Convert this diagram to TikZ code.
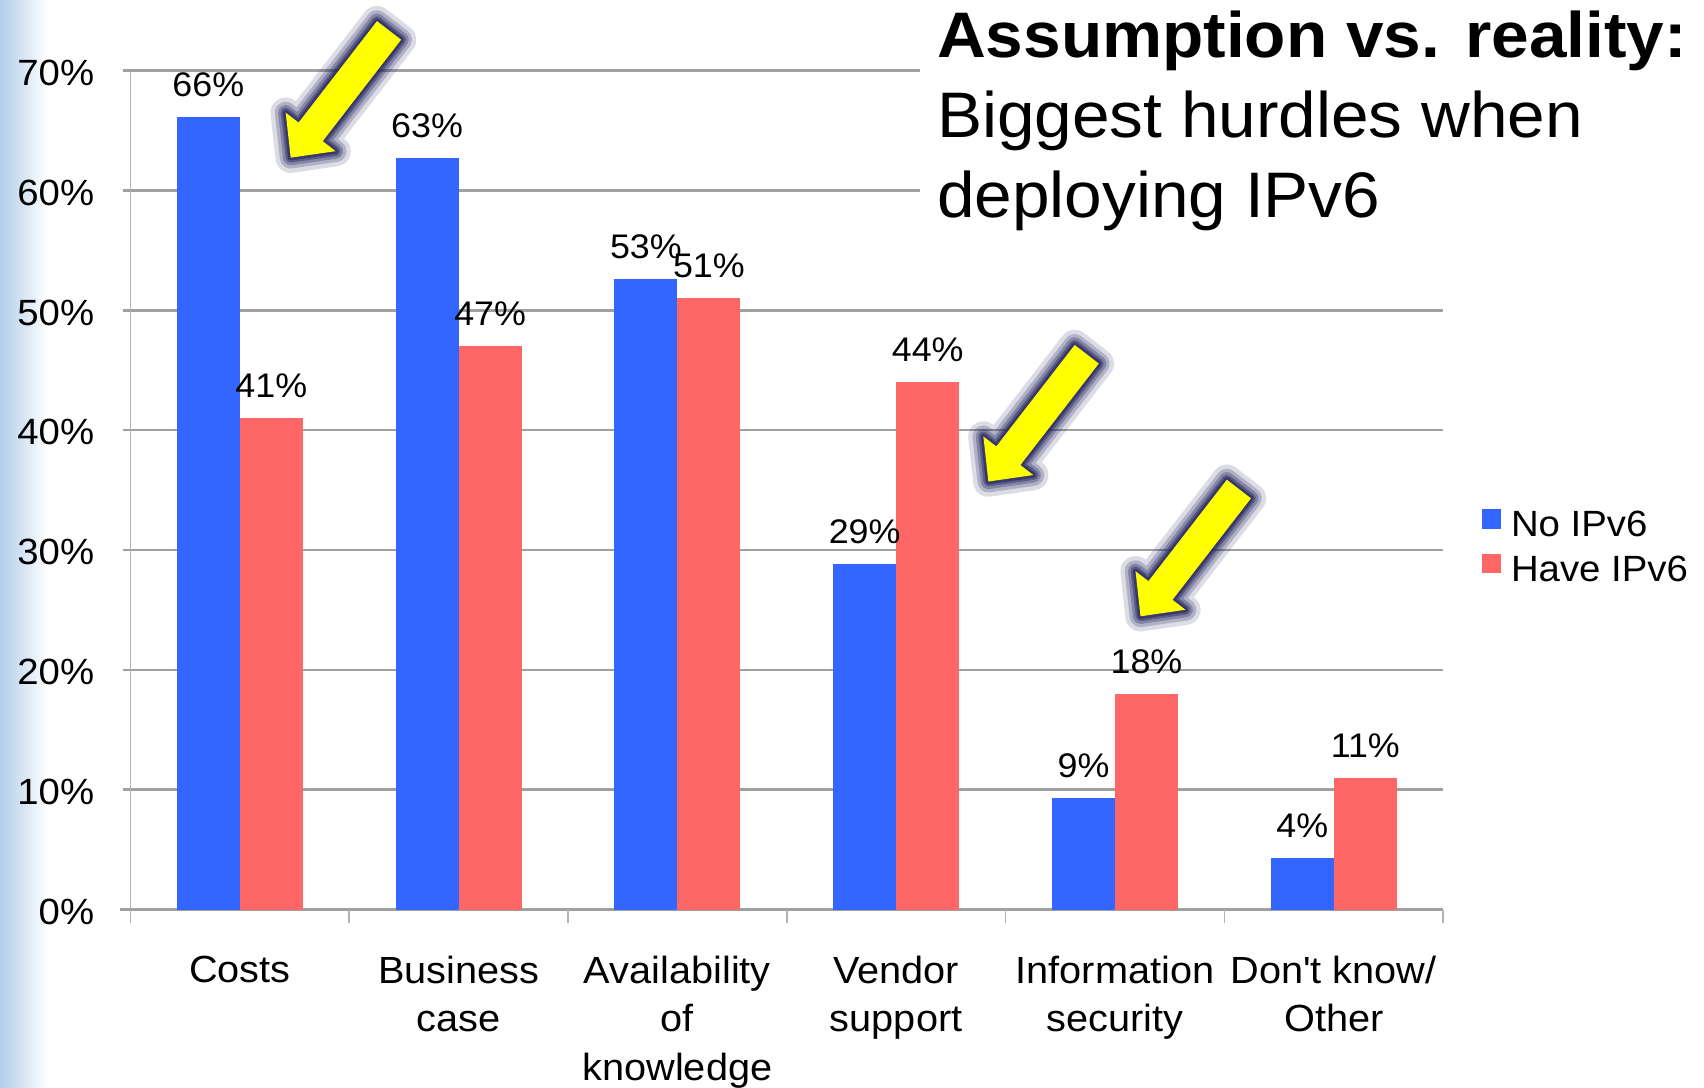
\documentclass[tikz,border=0pt]{standalone}
\usepackage{fontspec}
\setmainfont{Liberation Sans}[FakeStretch=1.05]
\usetikzlibrary{positioning}

\definecolor{noblue}{HTML}{3366FF}
\definecolor{havered}{HTML}{FF6666}
\definecolor{gridgray}{HTML}{A0A0A0}
\definecolor{glowblue}{HTML}{262660}
\definecolor{stripblue}{HTML}{B2CDE7}
\definecolor{hurdleyellow}{HTML}{FFFF00}

\tikzset{
  gridline/.style={gridgray, line width=1.2pt},
  axisline/.style={gridgray!80, line width=0.7pt},
  ticklabel/.style={anchor=east, inner sep=0pt, font=\fontsize{16.8}{20}\selectfont},
  valuelabel/.style={anchor=base, inner sep=0pt, font=\fontsize{15.7}{18}\selectfont},
  catlabel/.style={anchor=north, inner sep=0pt, align=center, font=\fontsize{17.4}{22.5}\selectfont},
  legendkey/.style={minimum size=9pt, inner sep=0pt, anchor=north west},
  legendtext/.style={anchor=base west, inner sep=0pt, font=\fontsize{16.8}{19}\selectfont},
  titlebox/.style={anchor=north west, fill=white, align=left, inner xsep=8pt, inner ysep=5pt,
    font=\fontsize{29.6}{36.6}\selectfont},
  hurdle/.pic={
    \foreach \w/\o in {14pt/0.16, 10pt/0.24, 7pt/0.32, 4.5pt/0.45, 2.5pt/0.65}
      \draw[glowblue, line width=\w, opacity=\o, line join=round]
        (0,-14) -- (118,-14) -- (118,-29) -- (148,0) -- (118,29) -- (118,14) -- (0,14) -- cycle;
    \fill[hurdleyellow] (0,-14) -- (118,-14) -- (118,-29) -- (148,0) -- (118,29) -- (118,14) -- (0,14) -- cycle;
  }
}

\begin{document}
\begin{tikzpicture}[x=0.5pt, y=-0.5pt]
\useasboundingbox (0,0) rectangle (1568,1001);
\shade[left color=stripblue, right color=white] (0,0) rectangle (44,1001);

% grid and axes
\foreach \p in {1,...,7}
  \draw[gridline] (113,{837-110.29*\p}) -- (1328,{837-110.29*\p});
\draw[axisline] (120,65) -- (120,837);
\draw[gridline, line width=1.5pt] (110,837) -- (1328,837);
\foreach \i in {0,...,6}
  \draw[axisline] ({120+201.33*\i},837) -- ++(0,12);
\foreach \p [evaluate=\p as \pc using int(10*\p)] in {0,...,7}
  \node[ticklabel] (y\p) at (87,{839-110.29*\p}) {\pc\%};

% bars
\foreach \i/\a/\b/\ta/\tb in {1/66.1/41/66/41, 2/62.7/47/63/47, 3/52.6/51/53/51,
    4/28.8/44/29/44, 5/9.3/18/9/18, 6/4.3/11/4/11} {
  \pgfmathsetmacro\cx{120+201.33*(\i-0.5)}
  \fill[noblue] ({\cx-58},837) rectangle (\cx,{837-11.029*\a});
  \fill[havered] (\cx,837) rectangle ({\cx+58},{837-11.029*\b});
  \node[valuelabel] (va\i) at ({\cx-29},{837-11.029*\a-19}) {\ta\%};
  \node[valuelabel] (vb\i) at ({\cx+29},{837-11.029*\b-19}) {\tb\%};
}

% categories
\foreach \i/\t in {1/Costs, 2/Business\\case, 3/Availability\\of\\knowledge,
    4/Vendor\\support, 5/Information\\security, 6/{Don\textquotesingle t know/\\Other}}
  \node[catlabel] (c\i) at ({120+201.33*(\i-0.5)},879) {\t};

% title
\node[titlebox] (title) at (846,0)
  {\textbf{Assumption vs. reality:}\\Biggest hurdles when\\deploying IPv6};

% legend
\node[legendkey, fill=noblue] (kno) at (1363,468) {};
\node[legendtext] (lno) at (1390,494) {No IPv6};
\node[legendkey, fill=havered] (khave) at (1363,509) {};
\node[legendtext] (lhave) at (1390,535) {Have IPv6};

% arrows
\pic[rotate=-127.7] at (358,28) {hurdle};
\pic[rotate=-127.7] at (1000,326) {hurdle};
\pic[rotate=-127.7] at (1140,450) {hurdle};
\end{tikzpicture}
\end{document}
